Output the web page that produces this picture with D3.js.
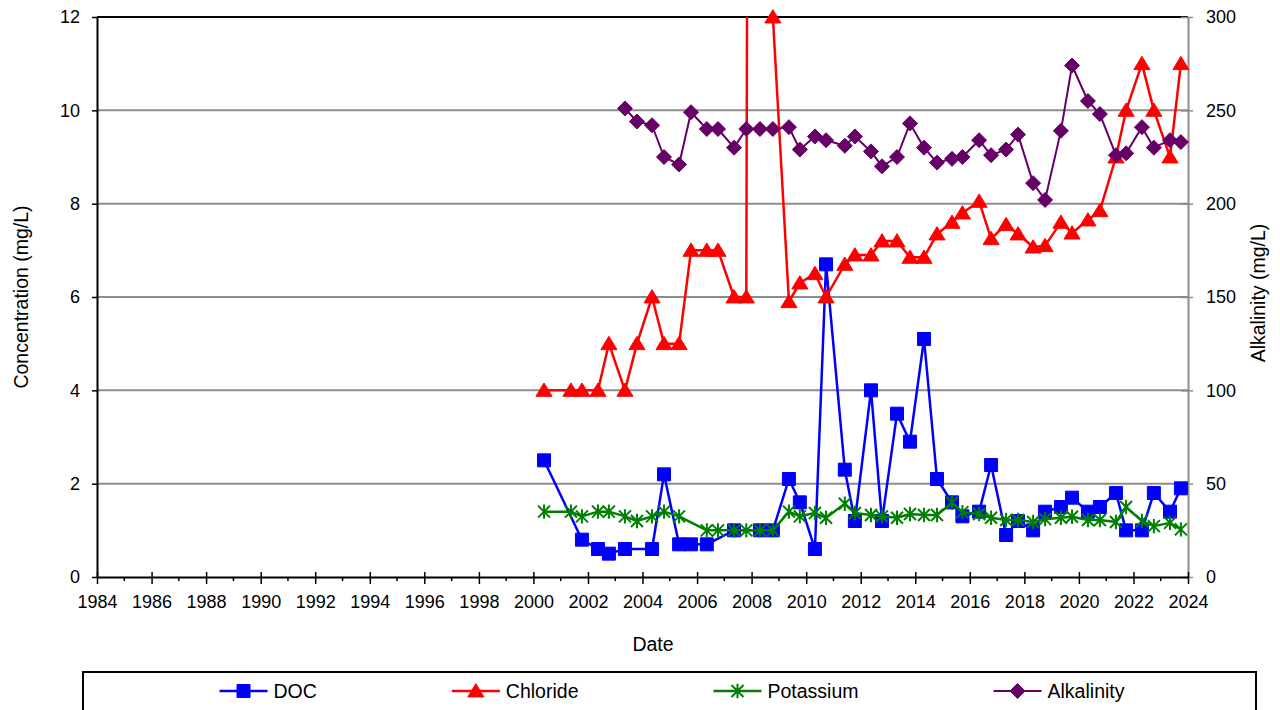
<!DOCTYPE html>
<html>
<head>
<meta charset="utf-8">
<script src="https://cdn.jsdelivr.net/npm/d3@7"></script>
<style>
  html, body { margin: 0; padding: 0; background: #fff; }
  svg { display: block; font-family: "Liberation Sans", Arial, sans-serif; }
</style>
</head>
<body>
<svg id="chart" width="1280" height="710"></svg>
<script>
// Sampling dates (twice-yearly surveys)
const sampleDates = [
  "2000-05-22","2001-05-18","2001-10-12","2002-05-15","2002-10-08","2003-05-11","2003-10-19",
  "2004-05-08","2004-10-15","2005-05-05","2005-10-12","2006-05-11","2006-10-08","2007-05-11",
  "2007-10-22","2008-04-22","2008-10-12","2009-05-15","2009-10-08","2010-04-28","2010-09-24",
  "2011-06-02","2011-10-15","2012-05-18","2012-10-12","2013-05-01","2013-10-22","2014-04-28",
  "2014-10-19","2015-05-08","2015-09-24","2016-05-05","2016-10-12","2017-05-01","2017-10-08",
  "2018-04-28","2018-10-05","2019-05-05","2019-10-01","2020-05-01","2020-10-08","2021-05-11",
  "2021-09-24","2022-04-24","2022-10-01","2023-05-05","2023-09-28"
];

// Concentrations in mg/L (null = not sampled)
const docValues = [
  2.5, null, 0.8, 0.6, 0.5, 0.6, null, 0.6, 2.2, 0.7, 0.7, 0.7, null, 1.0,
  null, 1.0, 1.0, 2.1, 1.6, 0.6, 6.7, 2.3, 1.2, 4.0, 1.2, 3.5, 2.9, 5.1,
  2.1, 1.6, 1.3, 1.4, 2.4, 0.9, 1.2, 1.0, 1.4, 1.5, 1.7, 1.4, 1.5, 1.8,
  1.0, 1.0, 1.8, 1.4, 1.9
];
const chlorideValues = [
  4, 4, 4, 4, 5, 4, 5, 6, 5, 5, 7, 7, 7, 6,
  6, 120, 12, 5.9, 6.3, 6.5, 6.0, 6.7, 6.9, 6.9, 7.2, 7.2, 6.85, 6.85,
  7.35, 7.6, 7.8, 8.05, 7.25, 7.55, 7.35, 7.07, 7.1, 7.6, 7.37, 7.65, 7.85, 9.0,
  10.0, 11.0, 10.0, 9.0, 11.0
];
const potassiumValues = [
  1.4, 1.4, 1.3, 1.4, 1.4, 1.3, 1.2, 1.3, 1.4, 1.3, null, 1.0, 1.0, 1.0,
  1.0, 1.0, 1.0, 1.4, 1.3, 1.37, 1.27, 1.57, 1.37, 1.33, 1.3, 1.27, 1.35, 1.33,
  1.33, 1.59, 1.39, 1.35, 1.27, 1.22, 1.22, 1.18, 1.24, 1.27, 1.29, 1.22, 1.22, 1.18,
  1.5, 1.2, 1.09, 1.16, 1.02
];
// Alkalinity in mg/L (secondary axis)
const alkalinityValues = [
  null, null, null, null, null, 251, 244, 242, 225, 221, 249, 240, 240, 230,
  240, 240, 240, 241, 229, 236, 234, 231, 236, 228, 220, 225, 243, 230,
  222, 224, 225, 234, 226, 229, 237, 211, 202, 239, 274, 255, 248, 226,
  227, 241, 230, 234, 233
];

const leftTicks = [0, 2, 4, 6, 8, 10, 12];
const rightTicks = [0, 50, 100, 150, 200, 250, 300];
const yearTicks = d3.range(1984, 2025, 2);

const svg = d3.select("#chart");
const plot = { left: 97, right: 1188, top: 17, bottom: 577 };
const parse = d3.timeParse("%Y-%m-%d");
const dates = sampleDates.map(parse);
const FONT = "'Liberation Sans', Arial, sans-serif";

const x = d3.scaleTime()
  .domain([new Date(1984, 0, 1), new Date(2024, 0, 1)])
  .range([plot.left, plot.right]);
const yL = d3.scaleLinear().domain([0, 12]).range([plot.bottom, plot.top]);
const yR = d3.scaleLinear().domain([0, 300]).range([plot.bottom, plot.top]);

svg.append("defs").append("clipPath").attr("id", "plotClip")
  .append("rect")
  .attr("x", plot.left).attr("y", plot.top)
  .attr("width", plot.right - plot.left).attr("height", plot.bottom - plot.top);

// Horizontal gridlines
svg.append("g").selectAll("line")
  .data(leftTicks.filter(t => t > 0 && t < 12))
  .join("line")
  .attr("x1", plot.left).attr("x2", plot.right)
  .attr("y1", d => yL(d)).attr("y2", d => yL(d))
  .attr("stroke", "#8c8c8c").attr("stroke-width", 2);

// Top border
svg.append("line")
  .attr("x1", plot.left).attr("x2", plot.right)
  .attr("y1", yL(12)).attr("y2", yL(12))
  .attr("stroke", "#000").attr("stroke-width", 2);

// Left axis
const axisL = svg.append("g")
  .attr("transform", `translate(${plot.left},0)`)
  .call(d3.axisLeft(yL).tickValues(leftTicks).tickSize(5).tickPadding(12).tickSizeOuter(0));
axisL.select(".domain").attr("stroke", "#000").attr("stroke-width", 2);
axisL.selectAll(".tick line").attr("stroke", "#000").attr("stroke-width", 1.5);
axisL.selectAll("text").attr("font-size", 18).attr("fill", "#000").attr("font-family", FONT);

// Right axis (crossing ticks)
const axisR = svg.append("g")
  .attr("transform", `translate(${plot.right},0)`)
  .call(d3.axisRight(yR).tickValues(rightTicks).tickSize(5).tickPadding(13).tickSizeOuter(0));
axisR.select(".domain").attr("stroke", "#8c8c8c").attr("stroke-width", 2);
axisR.selectAll(".tick line").attr("x1", -7).attr("x2", 5)
  .attr("stroke", "#8c8c8c").attr("stroke-width", 1.5);
axisR.selectAll("text").attr("font-size", 18).attr("fill", "#000").attr("font-family", FONT);

// Bottom axis: crossing major ticks every two years, minor ticks each year
svg.append("g").selectAll("line")
  .data(d3.range(1985, 2024, 2))
  .join("line")
  .attr("x1", d => x(new Date(d, 0, 1))).attr("x2", d => x(new Date(d, 0, 1)))
  .attr("y1", plot.bottom).attr("y2", plot.bottom + 4)
  .attr("stroke", "#000").attr("stroke-width", 1.5);

const axisB = svg.append("g")
  .attr("transform", `translate(0,${plot.bottom})`)
  .call(d3.axisBottom(x)
    .tickValues(yearTicks.map(yr => new Date(yr, 0, 1)))
    .tickFormat(d3.timeFormat("%Y"))
    .tickSize(7).tickPadding(11).tickSizeOuter(0));
axisB.select(".domain").attr("stroke", "#000").attr("stroke-width", 2);
axisB.selectAll(".tick line").attr("y1", -5).attr("y2", 7)
  .attr("stroke", "#000").attr("stroke-width", 1.5);
axisB.selectAll("text").attr("font-size", 18).attr("fill", "#000").attr("font-family", FONT);

// Axis titles
svg.append("text")
  .attr("transform", `translate(28,${(plot.top + plot.bottom) / 2}) rotate(-90)`)
  .attr("text-anchor", "middle").attr("font-size", 19.5).text("Concentration (mg/L)");
svg.append("text")
  .attr("transform", `translate(1265,${(plot.top + plot.bottom) / 2 - 4}) rotate(-90)`)
  .attr("text-anchor", "middle").attr("font-size", 19.5).text("Alkalinity (mg/L)");
svg.append("text")
  .attr("x", 653).attr("y", 651)
  .attr("text-anchor", "middle").attr("font-size", 19.5).text("Date");

// Marker shapes
const markers = {
  square: s => `M${-s},${-s}H${s}V${s}H${-s}Z`,
  triangle: s => `M0,${-s * 1.05}L${s * 1.15},${s * 0.85}L${-s * 1.15},${s * 0.85}Z`,
  diamond: s => `M0,${-s}L${s},0L0,${s}L${-s},0Z`,
  star: s => `M${-s},${-s}L${s},${s}M${-s},${s}L${s},${-s}M0,${-s * 1.2}L0,${s * 1.2}`
};

const seriesList = [
  { name: "DOC", values: docValues, y: yL, color: "#0000ff", marker: "square", size: 6.5, width: 2.5 },
  { name: "Chloride", values: chlorideValues, y: yL, color: "#ff0000", marker: "triangle", size: 7, width: 2.5 },
  { name: "Potassium", values: potassiumValues, y: yL, color: "#008000", marker: "star", size: 6, width: 2.5 },
  { name: "Alkalinity", values: alkalinityValues, y: yR, color: "#660066", marker: "diamond", size: 7.5, width: 2 }
];

seriesList.forEach(s => {
  const pts = dates.map((d, i) => ({ date: d, v: s.values[i] })).filter(p => p.v != null);
  const line = d3.line().x(p => x(p.date)).y(p => s.y(p.v));
  const g = svg.append("g");
  g.append("path")
    .attr("clip-path", "url(#plotClip)")
    .attr("d", line(pts))
    .attr("fill", "none").attr("stroke", s.color)
    .attr("stroke-width", s.width).attr("stroke-linejoin", "round");
  const [lo, hi] = s.y.domain();
  g.selectAll("path.mk")
    .data(pts.filter(p => p.v >= lo && p.v <= hi))
    .join("path").attr("class", "mk")
    .attr("transform", p => `translate(${x(p.date)},${s.y(p.v)})`)
    .attr("d", markers[s.marker](s.size))
    .attr("fill", s.marker === "star" ? "none" : s.color)
    .attr("stroke", s.color)
    .attr("stroke-width", s.marker === "star" ? 2 : 1);
});

// Legend
const legend = svg.append("g");
legend.append("rect")
  .attr("x", 83).attr("y", 672).attr("width", 1173).attr("height", 44)
  .attr("fill", "#fff").attr("stroke", "#000").attr("stroke-width", 2);

const items = legend.selectAll("g.item").data(seriesList).join("g").attr("class", "item");
items.append("text")
  .attr("font-size", 19.5).attr("y", 698).text(d => d.name);
const widths = [];
items.select("text").each(function () { widths.push(this.getComputedTextLength()); });
const lineLen = 48, textGap = 6, itemGap = 135;
const total = d3.sum(widths) + seriesList.length * (lineLen + textGap) + (seriesList.length - 1) * itemGap;
let cx = 672 - total / 2;
items.each(function (d, i) {
  const g = d3.select(this);
  const x0 = cx;
  g.insert("line", "text")
    .attr("x1", x0).attr("x2", x0 + lineLen).attr("y1", 691).attr("y2", 691)
    .attr("stroke", d.color).attr("stroke-width", d.width);
  g.append("path")
    .attr("transform", `translate(${x0 + lineLen / 2},691)`)
    .attr("d", markers[d.marker](d.size))
    .attr("fill", d.marker === "star" ? "none" : d.color)
    .attr("stroke", d.color).attr("stroke-width", d.marker === "star" ? 2 : 1);
  g.select("text").attr("x", x0 + lineLen + textGap);
  cx += lineLen + textGap + widths[i] + itemGap;
});
</script>
</body>
</html>
